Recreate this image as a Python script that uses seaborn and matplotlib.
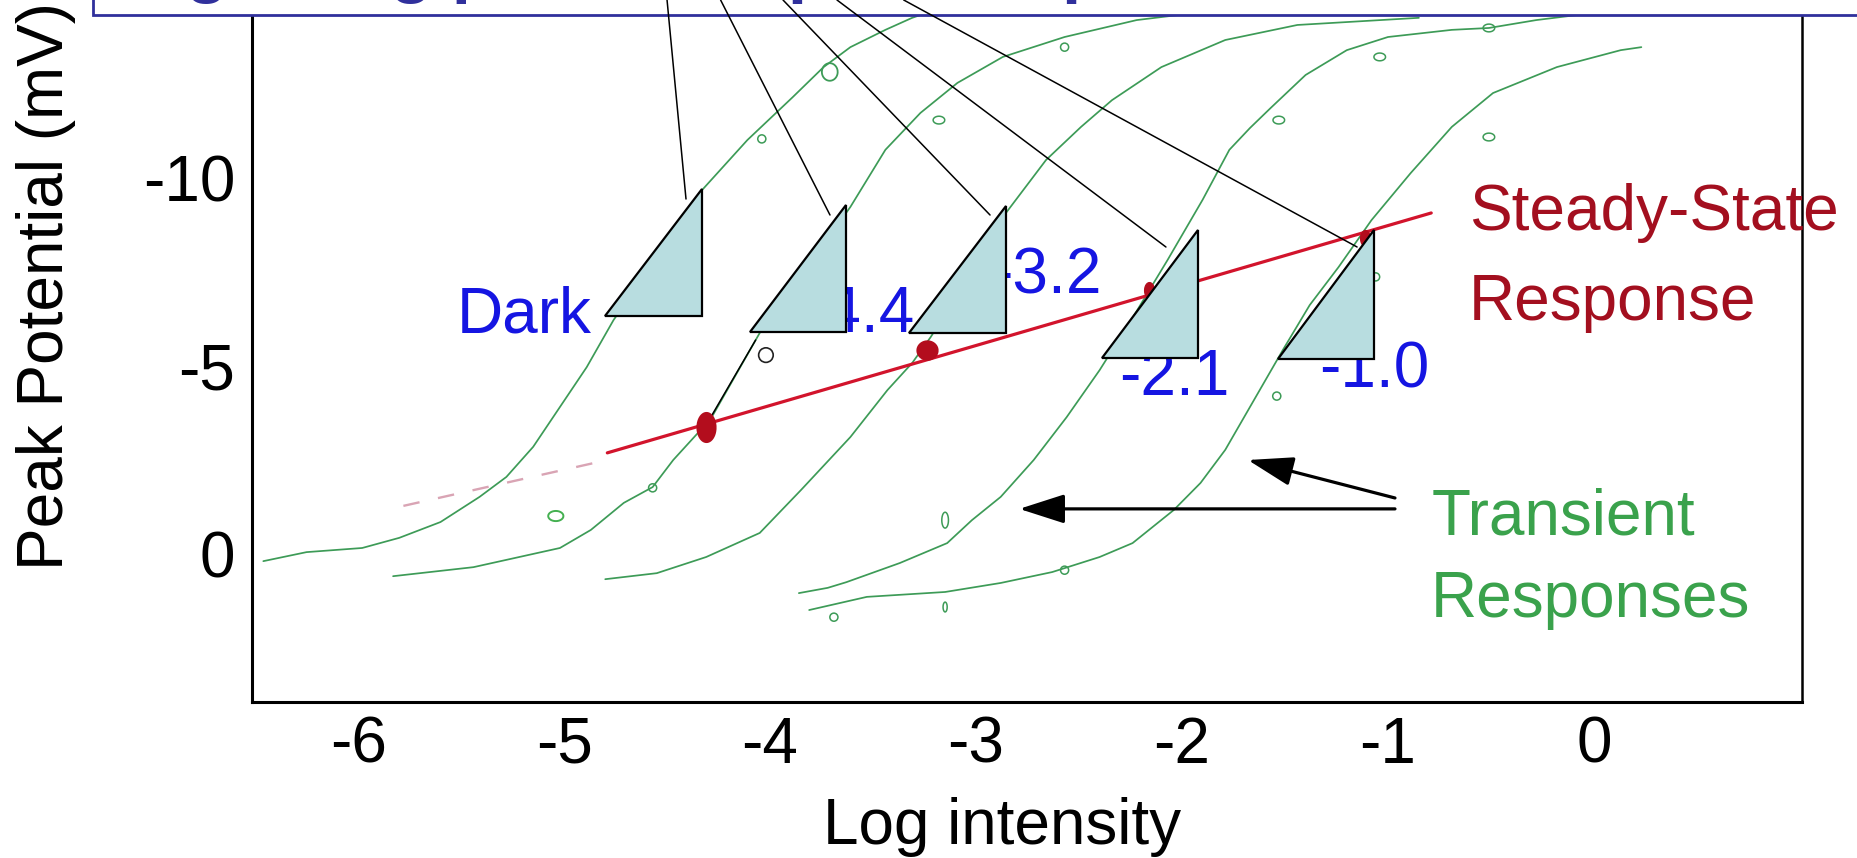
import numpy as np
import pandas as pd
import matplotlib
matplotlib.use("Agg")
import matplotlib.pyplot as plt
import seaborn as sns
from matplotlib.path import Path
from matplotlib.patches import Polygon, Rectangle
from matplotlib.lines import Line2D

# ---- transient response curves: log intensity vs. peak potential (mV) ----
dark_x = [-6.46, -6.25, -5.98, -5.80, -5.60, -5.41, -5.28, -5.15, -5.02, -4.89,
          -4.76, -4.53, -4.33, -4.11, -3.89, -3.74, -3.61, -3.44, -3.31, -3.17]
dark_y = [0.19, -0.05, -0.16, -0.43, -0.85, -1.52, -2.05, -2.85, -3.91, -4.97,
          -6.22, -8.03, -9.68, -11.01, -12.15, -12.95, -13.48, -13.94, -14.26, -14.52]

bg44_x = [-5.83, -5.44, -5.02, -4.87, -4.71, -4.57, -4.47, -4.35, -4.31, -4.05,
          -3.83, -3.61, -3.44, -3.27, -3.09, -2.87, -2.57, -2.22, -2.01]
bg44_y = [0.59, 0.35, -0.16, -0.64, -1.36, -1.78, -2.50, -3.22, -3.38, -5.88,
          -7.55, -9.23, -10.75, -11.73, -12.53, -13.22, -13.75, -14.20, -14.34]

bg32_x = [-4.80, -4.55, -4.31, -4.05, -3.85, -3.61, -3.43, -3.31, -3.22, -3.03,
          -2.87, -2.66, -2.49, -2.34, -2.10, -1.79, -1.44, -0.85]
bg32_y = [0.67, 0.51, 0.08, -0.56, -1.70, -3.11, -4.36, -5.08, -5.77, -7.42,
          -8.96, -10.48, -11.36, -12.07, -12.95, -13.67, -14.07, -14.26]

bg21_x = [-3.86, -3.72, -3.63, -3.37, -3.14, -3.02, -2.88, -2.72, -2.56, -2.40,
          -2.24, -2.07, -1.90, -1.77, -1.67, -1.57, -1.40, -1.20, -1.00, -0.69,
          -0.51, -0.28, 0.00]
bg21_y = [1.04, 0.90, 0.75, 0.24, -0.29, -0.90, -1.52, -2.50, -3.64, -4.89,
          -6.28, -7.82, -9.42, -10.75, -11.33, -11.86, -12.74, -13.40, -13.75, -13.94,
          -13.99, -14.20, -14.39]

bg10_x = [-3.81, -3.53, -3.15, -2.88, -2.63, -2.40, -2.24, -2.04, -1.91, -1.79,
          -1.65, -1.51, -1.38, -1.24, -1.08, -0.89, -0.69, -0.49, -0.18, 0.13, 0.23]
bg10_y = [1.49, 1.14, 1.01, 0.77, 0.48, 0.08, -0.29, -1.17, -1.89, -2.77,
          -4.10, -5.43, -6.62, -7.63, -8.88, -10.13, -11.36, -12.26, -12.95, -13.40, -13.48]

adapt_levels = ["Dark", "-4.4", "-3.2", "-2.1", "-1.0"]

# ---- steady-state response ----
steady_x = [-4.79, -0.79]
steady_y = [-2.69, -9.07]
steady_ext_x = [-5.78, -4.79]
steady_ext_y = [-1.28, -2.50]
steady_pts_x = [-4.31, -3.24, -2.16, -1.11]
steady_pts_y = [-3.38, -5.43, -7.02, -8.40]

# black segment from the first steady-state point to its open circle
link_x = [-4.31, -4.07]
link_y = [-3.43, -5.69]
link_pt_x = [-4.02]
link_pt_y = [-5.29]

# ---- measured transient points (open symbols) ----
dot_x = [-4.57, -2.57, -3.69, -2.57, -1.54, -1.06, -4.04]
dot_y = [-1.76, 0.43, 1.68, -13.48, -4.20, -7.37, -11.04]
oval_x = [-3.18, -1.53, -1.04, -0.51, -0.51]
oval_y = [-11.54, -11.54, -13.22, -13.99, -11.09]
big_oval_x = [-5.04]
big_oval_y = [-1.01]
tall_x = [-3.15, -3.15]
tall_y = [-0.90, 1.41]
ring_x = [-3.71]
ring_y = [-12.82]

x_ticks = [-6, -5, -4, -3, -2, -1, 0]
y_ticks = [-10, -5, 0]

# ---- styling ----
GREEN = "#3d9b57"
GREEN_TXT = "#3aa24c"
RED = "#d2142c"
DARK_RED = "#a30f1f"
BLUE = "#1515e2"
TITLE_BLUE = "#30309c"
TRI_FILL = "#b8dde0"

sns.set_theme(style="white")
plt.rcParams["font.family"] = ["Liberation Sans", "DejaVu Sans"]
plt.rcParams["axes.unicode_minus"] = False
plt.rcParams["axes.edgecolor"] = "black"
plt.rcParams["xtick.color"] = "black"
plt.rcParams["ytick.color"] = "black"
plt.rcParams["axes.labelcolor"] = "black"

W, H = 1858, 858
fig = plt.figure(figsize=(W / 100, H / 100), dpi=100)
fig.patch.set_facecolor("white")
L, R, B, T = 252, 1802, 702, 0
ax = fig.add_axes([L / W, 1 - B / H, (R - L) / W, (B - T) / H])
ax.set_facecolor("white")

# transient curves
frames = []
for name, xs, ys in zip(adapt_levels,
                        [dark_x, bg44_x, bg32_x, bg21_x, bg10_x],
                        [dark_y, bg44_y, bg32_y, bg21_y, bg10_y]):
    frames.append(pd.DataFrame({"log_i": xs, "mv": ys, "adapt": name}))
curves = pd.concat(frames, ignore_index=True)
sns.lineplot(data=curves, x="log_i", y="mv", units="adapt", estimator=None,
             sort=False, color=GREEN, lw=1.25, ax=ax, legend=False, zorder=2)

# steady-state line
ext = pd.DataFrame({"log_i": steady_ext_x, "mv": steady_ext_y})
sns.lineplot(data=ext, x="log_i", y="mv", color="#d9a4b4", lw=1.7,
             linestyle=(0, (7, 8)), ax=ax, zorder=2)
steady = pd.DataFrame({"log_i": steady_x, "mv": steady_y})
sns.lineplot(data=steady, x="log_i", y="mv", color=RED, lw=2.3, ax=ax, zorder=3)
ax.plot(link_x, link_y, color="black", lw=1.1, zorder=3)


def oval(aspect):
    t = np.linspace(0, 2 * np.pi, 48)
    return Path(np.column_stack([aspect * np.cos(t), np.sin(t)]))


tall_ellipse = oval(0.62)
wide_ellipse = oval(1.5)
tall_thin = oval(0.42)

sp = pd.DataFrame({"log_i": steady_pts_x, "mv": steady_pts_y})
sns.scatterplot(data=sp.iloc[:1], x="log_i", y="mv", marker=tall_ellipse, s=430,
                color="#b30d1d", edgecolor="#b30d1d", ax=ax, zorder=4)
sns.scatterplot(data=sp.iloc[1:2], x="log_i", y="mv", marker=oval(1.1), s=220,
                color="#b30d1d", edgecolor="#b30d1d", ax=ax, zorder=4)
sns.scatterplot(data=sp.iloc[2:], x="log_i", y="mv", marker=tall_ellipse, s=130,
                color="#b30d1d", edgecolor="#b30d1d", ax=ax, zorder=4)

open_kw = dict(facecolor="none", ax=ax, zorder=4)
sns.scatterplot(x=dot_x, y=dot_y, marker="o", s=34, edgecolor=GREEN, linewidth=1.1, **open_kw)
sns.scatterplot(x=oval_x, y=oval_y, marker=wide_ellipse, s=70, edgecolor=GREEN, linewidth=1.1, **open_kw)
sns.scatterplot(x=big_oval_x, y=big_oval_y, marker=wide_ellipse, s=120, edgecolor="#44b050", linewidth=1.4, **open_kw)
sns.scatterplot(x=tall_x, y=tall_y, marker=tall_thin, s=[130, 50], edgecolor=GREEN, linewidth=1.1, **open_kw)
sns.scatterplot(x=ring_x, y=ring_y, marker=oval(0.9), s=160, edgecolor=GREEN, linewidth=1.3, **open_kw)
sns.scatterplot(x=link_pt_x, y=link_pt_y, marker="o", s=110, edgecolor="#222222", linewidth=1.2, **open_kw)

# labels for the adapting backgrounds
FS = 46
lab_kw = dict(fontsize=FS, color=BLUE, va="baseline", zorder=5)
ax.text(-5.52, -5.88, "Dark", ha="left", **lab_kw)
ax.text(-3.30, -5.90, "-4.4", ha="right", **lab_kw)
ax.text(-2.39, -6.94, "-3.2", ha="right", **lab_kw)
ax.text(-1.77, -4.23, "-2.1", ha="right", **lab_kw)
ax.text(-0.80, -4.44, "-1.0", ha="right", **lab_kw)

ax.text(-0.607, -8.62, "Steady-State", fontsize=FS, color=DARK_RED, ha="left", va="baseline", zorder=5)
ax.text(-0.607, -6.22, "Response", fontsize=FS, color=DARK_RED, ha="left", va="baseline", zorder=5)
ax.text(-0.79, -0.51, "Transient", fontsize=FS, color=GREEN_TXT, ha="left", va="baseline", zorder=5)
ax.text(-0.79, 1.68, "Responses", fontsize=FS, color=GREEN_TXT, ha="left", va="baseline", zorder=5)

arrow_kw = dict(arrowstyle="-|>,head_length=1.4,head_width=0.45", color="black",
                lw=2.3, mutation_scale=20, shrinkA=0, shrinkB=0)
ax.annotate("", xy=(-1.68, -2.50), xytext=(-0.966, -1.49), arrowprops=arrow_kw, zorder=5)
ax.annotate("", xy=(-2.79, -1.20), xytext=(-0.966, -1.20), arrowprops=arrow_kw, zorder=5)

# callout triangles with leader lines running up to the title box
callouts = [
    # (lower-left x, lower-left y, apex x, apex y, leader start x, y, leader end x, y)
    (-4.801, -6.330, -4.330, -9.707, -4.408, -9.441, -4.500, -14.734),
    (-4.097, -5.904, -3.633, -9.282, -3.709, -9.016, -4.240, -14.734),
    (-3.325, -5.878, -2.854, -9.255, -2.932, -9.016, -3.937, -14.734),
    (-2.388, -5.213, -1.922, -8.617, -2.078, -8.165, -3.675, -14.734),
    (-1.532, -5.186, -1.068, -8.617, -1.150, -8.165, -3.351, -14.734),
]
for x0, y0, x1, y1, lx0, ly0, lx1, ly1 in callouts:
    ax.add_patch(Polygon([[x0, y0], [x1, y0], [x1, y1]], closed=True,
                         facecolor=TRI_FILL, edgecolor="black", lw=1.6, zorder=10))
    fig.add_artist(Line2D([lx0, lx1], [ly0, ly1], transform=ax.transData,
                          color="black", lw=1.1, zorder=7))

# axes
ax.set_xlim(-6.515, 1.01)
ax.set_ylim(3.936, -14.734)
ax.set_xticks(x_ticks)
ax.set_xticklabels([str(v) for v in x_ticks])
ax.set_yticks(y_ticks)
ax.set_yticklabels([str(v) for v in y_ticks])
ax.tick_params(axis="x", direction="in", length=21.5, width=1.5, labelsize=FS, pad=10)
ax.tick_params(axis="y", direction="in", length=13, width=1.5, labelsize=FS, pad=12)
for side in ["left", "bottom", "right"]:
    ax.spines[side].set_visible(True)
    ax.spines[side].set_color("black")
    ax.spines[side].set_linewidth(2.2)
ax.spines["right"].set_linewidth(1.8)
ax.spines["top"].set_visible(False)

ax.set_xlabel("Log intensity", fontsize=FS)
ax.set_ylabel("Peak Potential (mV)", fontsize=FS)
ax.xaxis.set_label_coords(0.4842, -0.1348)
ax.yaxis.set_label_coords(-0.1134, 0.5926)

# title box along the top edge; only the descenders of its heading reach into view
fig.add_artist(Rectangle((93 / W, 1 - 15 / H), 2.0, 1.0, transform=fig.transFigure,
                         facecolor="white", edgecolor=TITLE_BLUE, lw=2.0, zorder=5))
fig.text(120 / W, 1 + 9.7 / H, "Signaling photoreceptor adaptation", fontsize=50,
         fontweight="bold", color=TITLE_BLUE, ha="left", va="baseline", zorder=6)

fig.savefig("out.png", dpi=100, facecolor="white")
